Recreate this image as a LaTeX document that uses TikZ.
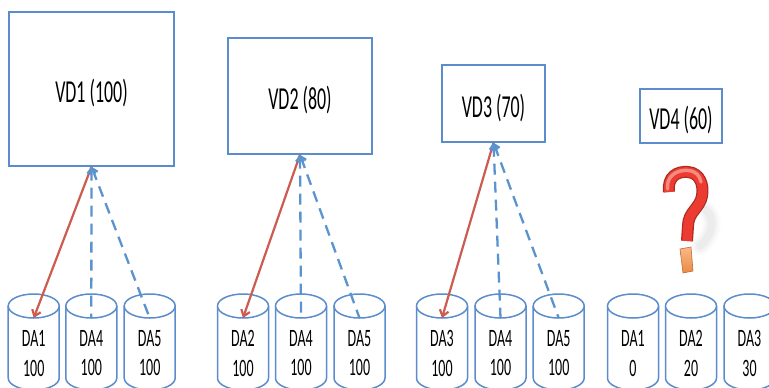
\documentclass[tikz,border=0pt]{standalone}
\usepackage{fontspec}
\newfontfamily\labfont[FakeStretch=0.56]{Carlito}
\usetikzlibrary{arrows.meta,calc}

\definecolor{boxblue}{HTML}{5B8CCB}
\definecolor{dashblue}{HTML}{5B93CF}
\definecolor{linkred}{HTML}{CC5B50}
\definecolor{qdark}{HTML}{B02A22}
\definecolor{qred}{HTML}{EC3B30}
\definecolor{qlight}{HTML}{F79488}
\definecolor{dottop}{HTML}{F8B98A}
\definecolor{dotbot}{HTML}{EC8A42}

\tikzset{
  vdbox/.style={draw=boxblue, line width=1.5pt, fill=white, inner sep=0pt,
    font=\labfont\fontsize{32}{36}\selectfont, text height=27pt, text depth=0pt},
  daname/.style={align=center, inner sep=0pt,
    font=\labfont\fontsize{25}{29.3}\selectfont},
  diskline/.style={draw=boxblue, line width=1.5pt},
  primary/.style={draw=linkred, line width=2.2pt,
    -{Straight Barb[length=6pt,width=9pt]}},
  mirror/.style={draw=dashblue, line width=2.3pt, dash pattern=on 11pt off 7pt,
    {Straight Barb[length=5pt,width=8pt]}-},
}

% disk: name, centre x, label, value
\newcommand\drawdisk[4]{%
  \fill[white] (#2-25.5,-306) -- (#2-25.5,-378)
    arc[start angle=180,end angle=360,x radius=25.5,y radius=12]
    -- (#2+25.5,-306) -- cycle;
  \draw[diskline] (#2-25.5,-306) -- (#2-25.5,-378)
    arc[start angle=180,end angle=360,x radius=25.5,y radius=12]
    -- (#2+25.5,-306);
  \draw[diskline, fill=white] (#2,-306) ellipse[x radius=25.5,y radius=12];
  \coordinate (#1) at (#2,-318);
  \node[daname] (#1-txt) at (#2,-353.4) {#3\\#4};
}

\begin{document}
\begin{tikzpicture}[x=1pt,y=1pt]
\useasboundingbox (0,0) rectangle (769,-388);

% virtual disks
\node[vdbox, minimum width=165pt, minimum height=154pt] (vd1) at (91.5,-89) {VD1 (100)};
\node[vdbox, minimum width=144pt, minimum height=116pt] (vd2) at (300,-96) {VD2 (80)};
\node[vdbox, minimum width=103pt, minimum height=77pt] (vd3) at (493.5,-103.5) {VD3 (70)};
\node[vdbox, minimum width=82pt, minimum height=54pt] (vd4) at (681,-116) {VD4 (60)};

% physical disks
\drawdisk{a1}{33.7}{DA1}{100}
\drawdisk{a2}{91.3}{DA4}{100}
\drawdisk{a3}{149.7}{DA5}{100}
\drawdisk{b1}{243}{DA2}{100}
\drawdisk{b2}{301}{DA4}{100}
\drawdisk{b3}{359.5}{DA5}{100}
\drawdisk{c1}{442}{DA3}{100}
\drawdisk{c2}{500.5}{DA4}{100}
\drawdisk{c3}{558.7}{DA5}{100}
\drawdisk{e1}{633}{DA1}{0}
\drawdisk{e2}{691}{DA2}{20}
\drawdisk{e3}{749.5}{DA3}{30}

% primary copies
\draw[primary] (vd1.south) -- (a1);
\draw[primary] (vd2.south) -- (b1);
\draw[primary] (vd3.south) -- (c1);
% mirrored copies
\draw[mirror] (vd1.south) -- (a2);
\draw[mirror] (vd1.south) -- (a3);
\draw[mirror] (vd2.south) -- (b2);
\draw[mirror] (vd2.south) -- (b3);
\draw[mirror] (vd3.south) -- (c2);
\draw[mirror] (vd3.south) -- (c3);

% question mark: soft shadow
\foreach \w/\o in {18/0.04, 13/0.05, 8/0.07}
  \draw[gray, line width=\w pt, opacity=\o, line cap=round]
    (706,-210) .. controls (716,-220) and (712,-236) .. (700,-246);
% question mark: hook and stem
\draw[qdark, line width=12pt]
  (669,-192) .. controls (667,-176) and (678,-171) .. (688,-172)
  .. controls (700,-173) and (704,-185) .. (702,-196)
  .. controls (700,-208) and (688,-212) .. (688,-226) -- (687,-241);
\draw[qred, line width=9.5pt]
  (669,-192) .. controls (667,-176) and (678,-171) .. (688,-172)
  .. controls (700,-173) and (704,-185) .. (702,-196)
  .. controls (700,-208) and (688,-212) .. (688,-226) -- (687,-241);
\draw[qlight, line width=3.5pt, line cap=round, opacity=0.9]
  (667.5,-189) .. controls (666,-176) and (677,-169.5) .. (688,-170.5)
  .. controls (696,-171) and (700,-176) .. (701,-182);
% question mark: dot
\shade[top color=dottop, bottom color=dotbot, draw=dotbot!80!black, line width=0.6pt]
  (680,-249) -- (691,-247) -- (693,-271) -- (683,-273) -- cycle;
\end{tikzpicture}
\end{document}
